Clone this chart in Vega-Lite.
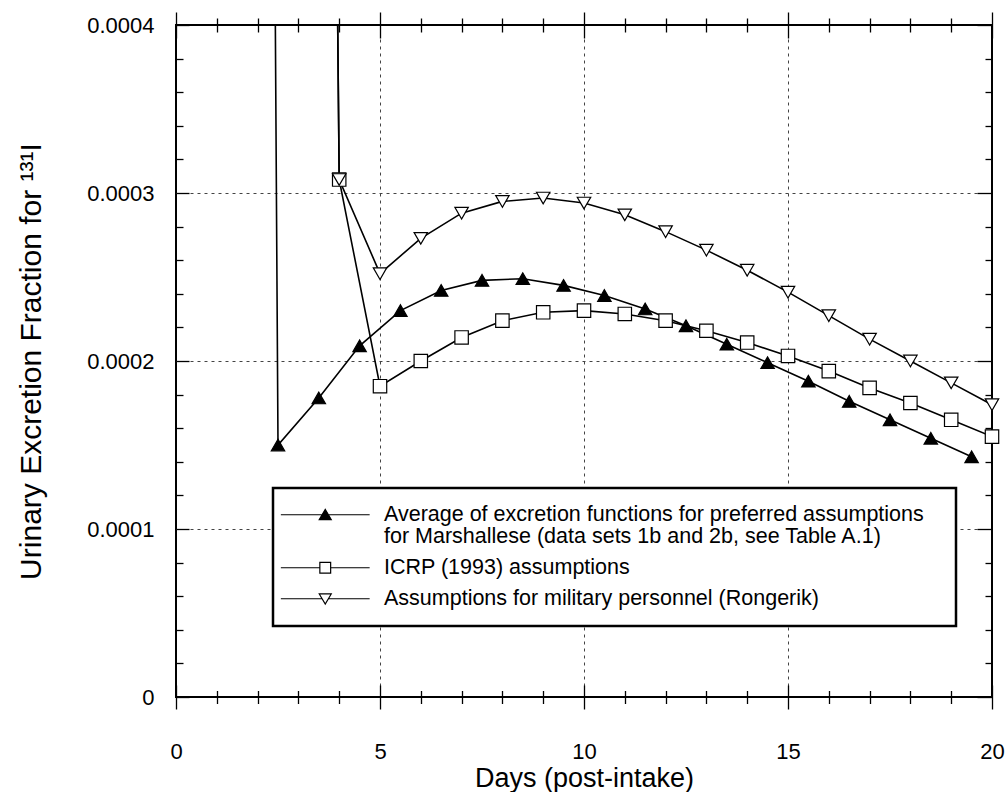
{
  "$schema": "https://vega.github.io/schema/vega-lite/v6.json",
  "width": 816,
  "height": 672,
  "autosize": {"type": "none"},
  "padding": {"left": 176, "top": 25, "right": 15, "bottom": 95},
  "background": "white",
  "config": {
    "view": {"stroke": "black", "strokeWidth": 2},
    "font": "Liberation Sans",
    "axis": {
      "labelFont": "Liberation Sans",
      "titleFont": "Liberation Sans",
      "labelColor": "black",
      "titleColor": "black",
      "titleFontWeight": "normal",
      "tickColor": "black",
      "tickWidth": 1.3,
      "domain": false
    }
  },
  "data": {
    "values": [
      {"series": "avg", "day": 1.5, "frac": 0.004},
      {"series": "avg", "day": 2.5, "frac": 0.000150},
      {"series": "avg", "day": 3.5, "frac": 0.000178},
      {"series": "avg", "day": 4.5, "frac": 0.000209},
      {"series": "avg", "day": 5.5, "frac": 0.000230},
      {"series": "avg", "day": 6.5, "frac": 0.000242},
      {"series": "avg", "day": 7.5, "frac": 0.000248},
      {"series": "avg", "day": 8.5, "frac": 0.000249},
      {"series": "avg", "day": 9.5, "frac": 0.000245},
      {"series": "avg", "day": 10.5, "frac": 0.000239},
      {"series": "avg", "day": 11.5, "frac": 0.000231},
      {"series": "avg", "day": 12.5, "frac": 0.000221},
      {"series": "avg", "day": 13.5, "frac": 0.000210},
      {"series": "avg", "day": 14.5, "frac": 0.000199},
      {"series": "avg", "day": 15.5, "frac": 0.000188},
      {"series": "avg", "day": 16.5, "frac": 0.000176},
      {"series": "avg", "day": 17.5, "frac": 0.000165},
      {"series": "avg", "day": 18.5, "frac": 0.000154},
      {"series": "avg", "day": 19.5, "frac": 0.000143},
      {"series": "icrp", "day": 3, "frac": 0.0028},
      {"series": "icrp", "day": 4, "frac": 0.000308},
      {"series": "icrp", "day": 5, "frac": 0.000185},
      {"series": "icrp", "day": 6, "frac": 0.000200},
      {"series": "icrp", "day": 7, "frac": 0.000214},
      {"series": "icrp", "day": 8, "frac": 0.000224},
      {"series": "icrp", "day": 9, "frac": 0.000229},
      {"series": "icrp", "day": 10, "frac": 0.000230},
      {"series": "icrp", "day": 11, "frac": 0.000228},
      {"series": "icrp", "day": 12, "frac": 0.000224},
      {"series": "icrp", "day": 13, "frac": 0.000218},
      {"series": "icrp", "day": 14, "frac": 0.000211},
      {"series": "icrp", "day": 15, "frac": 0.000203},
      {"series": "icrp", "day": 16, "frac": 0.000194},
      {"series": "icrp", "day": 17, "frac": 0.000184},
      {"series": "icrp", "day": 18, "frac": 0.000175},
      {"series": "icrp", "day": 19, "frac": 0.000165},
      {"series": "icrp", "day": 20, "frac": 0.000155},
      {"series": "mil", "day": 3, "frac": 0.0028},
      {"series": "mil", "day": 4, "frac": 0.000308},
      {"series": "mil", "day": 5, "frac": 0.000252},
      {"series": "mil", "day": 6, "frac": 0.000273},
      {"series": "mil", "day": 7, "frac": 0.000288},
      {"series": "mil", "day": 8, "frac": 0.000295},
      {"series": "mil", "day": 9, "frac": 0.000297},
      {"series": "mil", "day": 10, "frac": 0.000294},
      {"series": "mil", "day": 11, "frac": 0.000287},
      {"series": "mil", "day": 12, "frac": 0.000277},
      {"series": "mil", "day": 13, "frac": 0.000266},
      {"series": "mil", "day": 14, "frac": 0.000254},
      {"series": "mil", "day": 15, "frac": 0.000241},
      {"series": "mil", "day": 16, "frac": 0.000227},
      {"series": "mil", "day": 17, "frac": 0.000213},
      {"series": "mil", "day": 18, "frac": 0.000200},
      {"series": "mil", "day": 19, "frac": 0.000187},
      {"series": "mil", "day": 20, "frac": 0.000174}
    ]
  },
  "layer": [
    {
      "mark": {"type": "line", "clip": true, "color": "black", "strokeWidth": 1.6},
      "encoding": {
        "x": {
          "field": "day",
          "type": "quantitative",
          "scale": {"domain": [0, 20], "nice": false, "zero": false},
          "axis": {
            "orient": "bottom",
            "title": "Days (post-intake)",
            "titleFontSize": 27,
            "titleY": 81,
            "titleBaseline": "middle",
            "titleAlign": "center",
            "values": [0, 1, 2, 3, 4, 5, 6, 7, 8, 9, 10, 11, 12, 13, 14, 15, 16, 17, 18, 19, 20],
            "labelExpr": "datum.value % 5 === 0 ? datum.label : ''",
            "labelFontSize": 22,
            "labelBaseline": "top",
            "labelFlush": false,
            "labelOverlap": false,
            "tickSize": 6,
            "labelPadding": 38,
            "grid": true,
            "gridDash": [3, 4],
            "gridColor": "#444",
            "gridWidth": 1,
            "gridOpacity": {"condition": {"test": "datum.value % 5 === 0 && datum.value > 0 && datum.value < 20", "value": 1}, "value": 0},
            "encoding": {
              "ticks": {
                "y": {"condition": {"test": "datum.value % 5 === 0", "value": -12}, "value": -6.5},
                "y2": {"condition": {"test": "datum.value % 5 === 0", "value": 12}, "value": 6.5}
              }
            }
          }
        },
        "y": {
          "field": "frac",
          "type": "quantitative",
          "scale": {"domain": [0, 0.0004], "nice": false, "zero": true},
          "axis": {
            "orient": "left",
            "title": "Urinary Excretion Fraction for ¹³¹I",
            "titleFontSize": 30,
            "titleX": -145,
            "titleY": 336,
            "titleAngle": -90,
            "titleBaseline": "middle",
            "titleAlign": "center",
            "values": [0, 0.00002, 0.00004, 0.00006, 0.00008, 0.0001, 0.00012, 0.00014, 0.00016, 0.00018, 0.0002, 0.00022, 0.00024, 0.00026, 0.00028, 0.0003, 0.00032, 0.00034, 0.00036, 0.00038, 0.0004],
            "labelExpr": "abs(datum.value * 10000 - round(datum.value * 10000)) < 0.001 ? (datum.value == 0 ? '0' : format(datum.value, '.4f')) : ''",
            "labelFontSize": 22,
            "labelBaseline": "middle",
            "labelFlush": false,
            "labelOverlap": false,
            "tickSize": 6,
            "labelPadding": 16,
            "grid": true,
            "gridDash": [3, 4],
            "gridColor": "#444",
            "gridWidth": 1,
            "gridOpacity": {"condition": {"test": "abs(datum.value * 10000 - round(datum.value * 10000)) < 0.001 && datum.value > 0.00005 && datum.value < 0.00035", "value": 1}, "value": 0},
            "encoding": {
              "ticks": {
                "x": {"value": 0},
                "x2": {"condition": {"test": "abs(datum.value * 10000 - round(datum.value * 10000)) < 0.001", "value": 13}, "value": 7}
              }
            }
          }
        },
        "detail": {"field": "series", "type": "nominal"}
      }
    },
    {
      "transform": [{"filter": "datum.frac <= 0.0004"}],
      "mark": {"type": "point", "filled": true, "size": 180, "stroke": "black", "strokeWidth": 1.2, "opacity": 1},
      "encoding": {
        "x": {
          "field": "day",
          "type": "quantitative",
          "axis": {
            "orient": "top",
            "title": null,
            "labels": false,
            "grid": false,
            "values": [0, 1, 2, 3, 4, 5, 6, 7, 8, 9, 10, 11, 12, 13, 14, 15, 16, 17, 18, 19, 20],
            "tickSize": 6,
            "encoding": {
              "ticks": {
                "y": {"condition": {"test": "datum.value % 5 === 0", "value": -13}, "value": -7},
                "y2": {"condition": {"test": "datum.value % 5 === 0", "value": 13}, "value": 7}
              }
            }
          }
        },
        "y": {
          "field": "frac",
          "type": "quantitative",
          "axis": {
            "orient": "right",
            "title": null,
            "labels": false,
            "grid": false,
            "values": [0, 0.00002, 0.00004, 0.00006, 0.00008, 0.0001, 0.00012, 0.00014, 0.00016, 0.00018, 0.0002, 0.00022, 0.00024, 0.00026, 0.00028, 0.0003, 0.00032, 0.00034, 0.00036, 0.00038, 0.0004],
            "tickSize": 6,
            "encoding": {
              "ticks": {
                "x": {"value": 0},
                "x2": {"condition": {"test": "abs(datum.value * 10000 - round(datum.value * 10000)) < 0.001", "value": -15}, "value": -7}
              }
            }
          }
        },
        "shape": {
          "field": "series",
          "type": "nominal",
          "scale": {"domain": ["avg", "icrp", "mil"], "range": ["triangle-up", "square", "triangle-down"]},
          "legend": null
        },
        "fill": {
          "field": "series",
          "type": "nominal",
          "scale": {"domain": ["avg", "icrp", "mil"], "range": ["black", "white", "white"]},
          "legend": null
        }
      }
    },
    {
      "transform": [{"filter": "datum.day < 0"}],
      "mark": {"type": "point", "filled": true, "size": 144, "stroke": "black", "strokeWidth": 1.2, "opacity": 1},
      "encoding": {
        "shape": {
          "field": "series",
          "type": "nominal",
          "scale": {
            "domain": ["avg", "icrp", "mil"],
            "range": [
              "M-7.4,0H7.4M-1,0.8L1,0.8L0,-0.9Z",
              "M-7.4,0H-0.9M0.9,0H7.4M-0.9,-0.9H0.9V0.9H-0.9Z",
              "M-7.4,0H-0.55M0.55,0H7.4M-1,-0.8L1,-0.8L0,0.9Z"
            ]
          },
          "legend": {
            "orient": "none",
            "legendX": 97,
            "legendY": 463,
            "title": null,
            "strokeColor": "black",
            "fillColor": "white",
            "padding": 16,
            "symbolSize": 144,
            "symbolStrokeWidth": 1.2,
            "symbolStrokeColor": "black",
            "symbolOffset": 25.5,
            "labelOffset": 48,
            "labelFont": "Liberation Sans",
            "labelFontSize": 21.5,
            "labelColor": "black",
            "labelLimit": 800,
            "rowPadding": 8,
            "labelExpr": "datum.value === 'avg' ? ['Average of excretion functions for preferred assumptions\u2800', 'for Marshallese (data sets 1b and 2b, see Table A.1)'] : datum.value === 'icrp' ? 'ICRP (1993) assumptions' : 'Assumptions for military personnel (Rongerik)'",
            "encoding": {
              "legend": {
                "strokeWidth": {"value": 2.5}
              },
              "symbols": {
                "fill": {"condition": {"test": "datum.value === 'avg'", "value": "black"}, "value": "white"},
                "stroke": {"value": "black"},
                "strokeWidth": {"value": 1.2},
                "opacity": {"value": 1}
              },
              "labels": {
                "lineHeight": {"value": 22}
              }
            }
          }
        }
      }
    }
  ],
  "resolve": {
    "scale": {"x": "shared", "y": "shared", "shape": "independent", "fill": "independent"},
    "axis": {"x": "independent", "y": "independent"}
  }
}
